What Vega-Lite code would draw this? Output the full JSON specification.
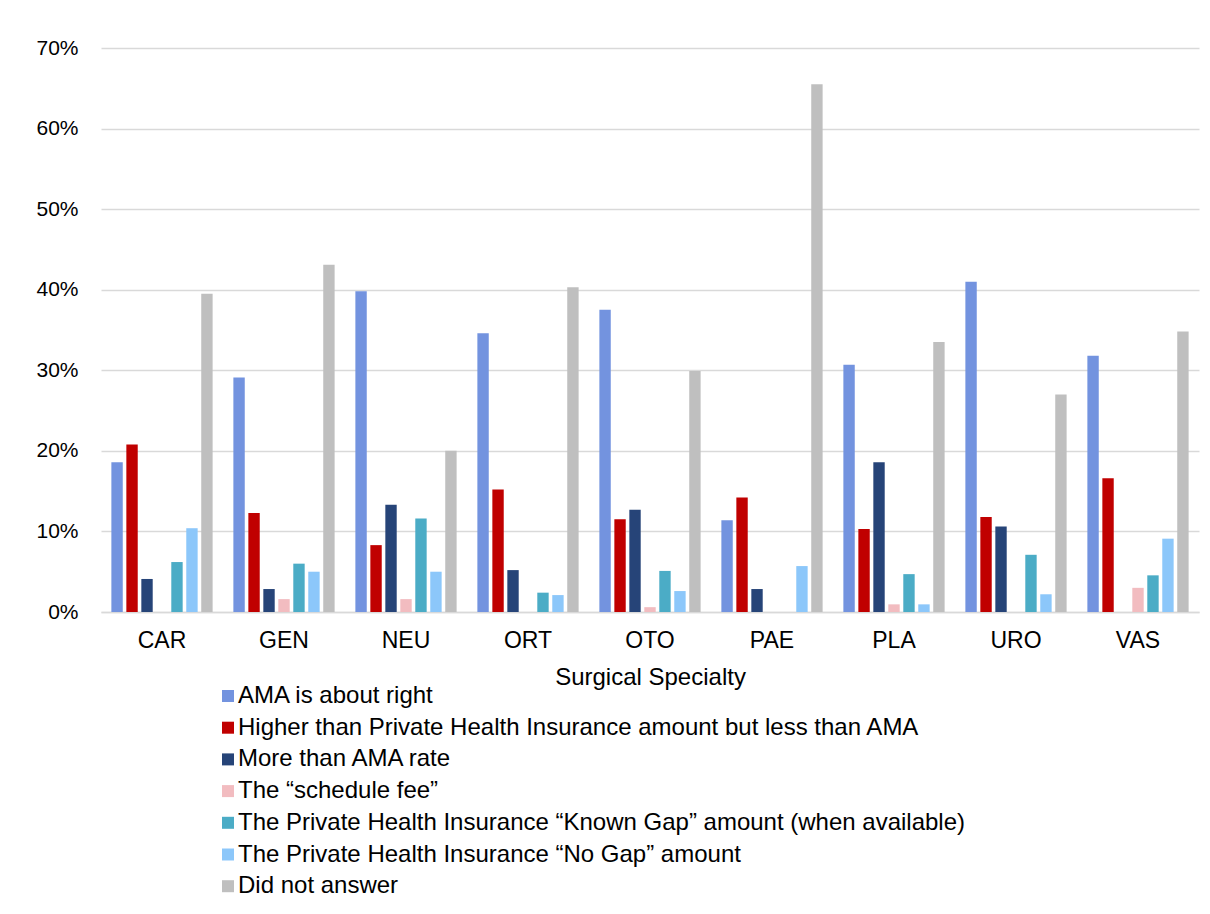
{
  "$schema": "https://vega.github.io/schema/vega-lite/v6.json",
  "width": 1098,
  "height": 564,
  "autosize": {"type": "none"},
  "padding": {"left": 101, "top": 48, "right": 11, "bottom": 302},
  "background": "white",
  "config": {
    "font": "Liberation Sans",
    "view": {"stroke": null}
  },
  "data": {
    "values": [
      {"c": "CAR", "s": "AMA is about right", "v": 0.186},
      {"c": "CAR", "s": "Higher than Private Health Insurance amount but less than AMA", "v": 0.208},
      {"c": "CAR", "s": "More than AMA rate", "v": 0.041},
      {"c": "CAR", "s": "The “schedule fee”", "v": 0},
      {"c": "CAR", "s": "The Private Health Insurance  “Known Gap” amount (when available)", "v": 0.062},
      {"c": "CAR", "s": "The Private Health Insurance  “No Gap” amount", "v": 0.104},
      {"c": "CAR", "s": "Did not answer", "v": 0.395},
      {"c": "GEN", "s": "AMA is about right", "v": 0.291},
      {"c": "GEN", "s": "Higher than Private Health Insurance amount but less than AMA", "v": 0.123},
      {"c": "GEN", "s": "More than AMA rate", "v": 0.0285},
      {"c": "GEN", "s": "The “schedule fee”", "v": 0.016},
      {"c": "GEN", "s": "The Private Health Insurance  “Known Gap” amount (when available)", "v": 0.060},
      {"c": "GEN", "s": "The Private Health Insurance  “No Gap” amount", "v": 0.050},
      {"c": "GEN", "s": "Did not answer", "v": 0.431},
      {"c": "NEU", "s": "AMA is about right", "v": 0.398},
      {"c": "NEU", "s": "Higher than Private Health Insurance amount but less than AMA", "v": 0.083},
      {"c": "NEU", "s": "More than AMA rate", "v": 0.133},
      {"c": "NEU", "s": "The “schedule fee”", "v": 0.016},
      {"c": "NEU", "s": "The Private Health Insurance  “Known Gap” amount (when available)", "v": 0.116},
      {"c": "NEU", "s": "The Private Health Insurance  “No Gap” amount", "v": 0.050},
      {"c": "NEU", "s": "Did not answer", "v": 0.200},
      {"c": "ORT", "s": "AMA is about right", "v": 0.346},
      {"c": "ORT", "s": "Higher than Private Health Insurance amount but less than AMA", "v": 0.152},
      {"c": "ORT", "s": "More than AMA rate", "v": 0.052},
      {"c": "ORT", "s": "The “schedule fee”", "v": 0},
      {"c": "ORT", "s": "The Private Health Insurance  “Known Gap” amount (when available)", "v": 0.024},
      {"c": "ORT", "s": "The Private Health Insurance  “No Gap” amount", "v": 0.021},
      {"c": "ORT", "s": "Did not answer", "v": 0.403},
      {"c": "OTO", "s": "AMA is about right", "v": 0.375},
      {"c": "OTO", "s": "Higher than Private Health Insurance amount but less than AMA", "v": 0.115},
      {"c": "OTO", "s": "More than AMA rate", "v": 0.127},
      {"c": "OTO", "s": "The “schedule fee”", "v": 0.006},
      {"c": "OTO", "s": "The Private Health Insurance  “Known Gap” amount (when available)", "v": 0.051},
      {"c": "OTO", "s": "The Private Health Insurance  “No Gap” amount", "v": 0.026},
      {"c": "OTO", "s": "Did not answer", "v": 0.299},
      {"c": "PAE", "s": "AMA is about right", "v": 0.114},
      {"c": "PAE", "s": "Higher than Private Health Insurance amount but less than AMA", "v": 0.142},
      {"c": "PAE", "s": "More than AMA rate", "v": 0.0285},
      {"c": "PAE", "s": "The “schedule fee”", "v": 0},
      {"c": "PAE", "s": "The Private Health Insurance  “Known Gap” amount (when available)", "v": 0},
      {"c": "PAE", "s": "The Private Health Insurance  “No Gap” amount", "v": 0.057},
      {"c": "PAE", "s": "Did not answer", "v": 0.655},
      {"c": "PLA", "s": "AMA is about right", "v": 0.307},
      {"c": "PLA", "s": "Higher than Private Health Insurance amount but less than AMA", "v": 0.103},
      {"c": "PLA", "s": "More than AMA rate", "v": 0.186},
      {"c": "PLA", "s": "The “schedule fee”", "v": 0.0095},
      {"c": "PLA", "s": "The Private Health Insurance  “Known Gap” amount (when available)", "v": 0.047},
      {"c": "PLA", "s": "The Private Health Insurance  “No Gap” amount", "v": 0.0095},
      {"c": "PLA", "s": "Did not answer", "v": 0.335},
      {"c": "URO", "s": "AMA is about right", "v": 0.410},
      {"c": "URO", "s": "Higher than Private Health Insurance amount but less than AMA", "v": 0.118},
      {"c": "URO", "s": "More than AMA rate", "v": 0.106},
      {"c": "URO", "s": "The “schedule fee”", "v": 0},
      {"c": "URO", "s": "The Private Health Insurance  “Known Gap” amount (when available)", "v": 0.071},
      {"c": "URO", "s": "The Private Health Insurance  “No Gap” amount", "v": 0.022},
      {"c": "URO", "s": "Did not answer", "v": 0.270},
      {"c": "VAS", "s": "AMA is about right", "v": 0.318},
      {"c": "VAS", "s": "Higher than Private Health Insurance amount but less than AMA", "v": 0.166},
      {"c": "VAS", "s": "More than AMA rate", "v": 0},
      {"c": "VAS", "s": "The “schedule fee”", "v": 0.030},
      {"c": "VAS", "s": "The Private Health Insurance  “Known Gap” amount (when available)", "v": 0.0455},
      {"c": "VAS", "s": "The Private Health Insurance  “No Gap” amount", "v": 0.091},
      {"c": "VAS", "s": "Did not answer", "v": 0.348}
    ]
  },
  "mark": {"type": "bar"},
  "encoding": {
    "x": {
      "field": "c",
      "type": "nominal",
      "sort": null,
      "scale": {"paddingInner": 0.17, "paddingOuter": 0.085},
      "axis": {
        "title": "Surgical Specialty",
        "titleFont": "Liberation Sans",
        "titleFontSize": 24,
        "titleFontWeight": "normal",
        "titleColor": "#000000",
        "titlePadding": 13,
        "labelAngle": 0,
        "labelFontSize": 23,
        "labelColor": "#000000",
        "labelPadding": 17,
        "ticks": false,
        "domainColor": "#D9D9D9",
        "domainWidth": 1.5,
        "grid": false
      }
    },
    "xOffset": {
      "field": "s",
      "type": "nominal",
      "sort": [
        "AMA is about right",
        "Higher than Private Health Insurance amount but less than AMA",
        "More than AMA rate",
        "The “schedule fee”",
        "The Private Health Insurance  “Known Gap” amount (when available)",
        "The Private Health Insurance  “No Gap” amount",
        "Did not answer"
      ],
      "scale": {"paddingInner": 0.24, "paddingOuter": 0}
    },
    "y": {
      "field": "v",
      "type": "quantitative",
      "scale": {"domain": [0, 0.7], "nice": false},
      "axis": {
        "title": null,
        "format": ".0%",
        "values": [0, 0.1, 0.2, 0.3, 0.4, 0.5, 0.6, 0.7],
        "labelFontSize": 21,
        "labelColor": "#000000",
        "labelPadding": 23,
        "ticks": false,
        "domain": false,
        "grid": true,
        "gridColor": "#D9D9D9",
        "gridWidth": 1.5
      }
    },
    "color": {
      "field": "s",
      "type": "nominal",
      "scale": {
        "domain": [
          "AMA is about right",
          "Higher than Private Health Insurance amount but less than AMA",
          "More than AMA rate",
          "The “schedule fee”",
          "The Private Health Insurance  “Known Gap” amount (when available)",
          "The Private Health Insurance  “No Gap” amount",
          "Did not answer"
        ],
        "range": ["#7393DF", "#C00000", "#264478", "#F2BCC0", "#4BACC6", "#8CC7FA", "#BFBFBF"]
      },
      "legend": {
        "title": null,
        "orient": "none",
        "legendX": 115,
        "legendY": 636,
        "direction": "vertical",
        "symbolType": "square",
        "symbolSize": 144,
        "symbolStrokeWidth": 0,
        "labelFontSize": 24,
        "labelColor": "#000000",
        "labelOffset": -2,
        "labelLimit": 1000,
        "rowPadding": 7.7
      }
    }
  }
}
